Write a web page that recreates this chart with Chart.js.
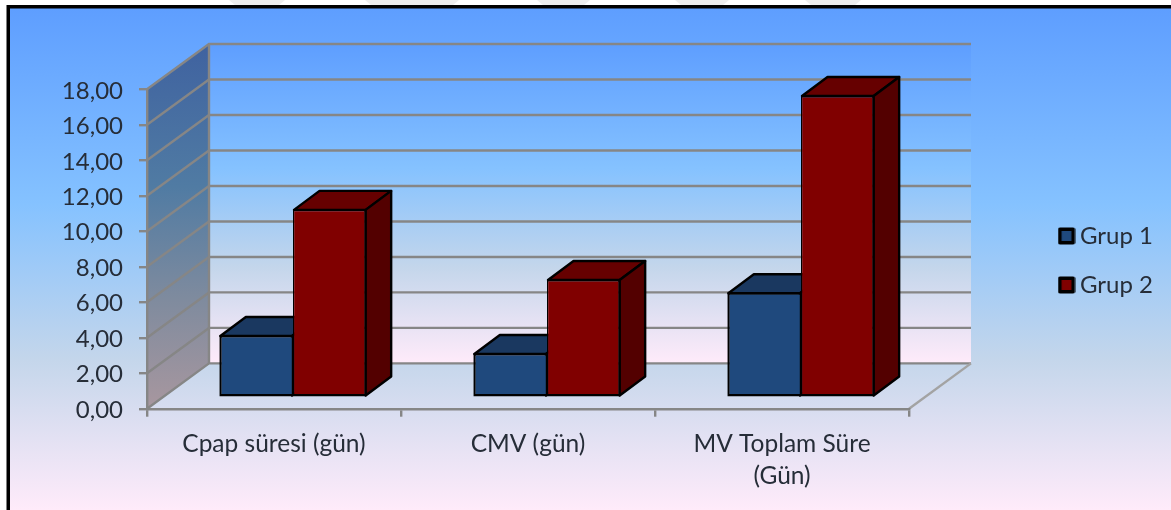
<!DOCTYPE html>
<html>
<head>
<meta charset="utf-8">
<script src="https://cdn.jsdelivr.net/npm/chart.js@4/dist/chart.umd.min.js"></script>
<style>
html, body { margin: 0; padding: 0; background: #fff; }
#wrap { position: absolute; left: 0; top: 0; width: 1171px; height: 510px; }
</style>
</head>
<body>
<div id="wrap"><canvas id="c" width="1171" height="510"></canvas></div>
<script>
const categories = [['Cpap süresi (gün)'], ['CMV (gün)'], ['MV Toplam Süre', '(Gün)']];
const grup1 = [3.53, 2.52, 5.94];
const grup2 = [10.64, 6.69, 17.06];
const seriesNames = ['Grup 1', 'Grup 2'];

const FONT = 'Lato, Carlito, Calibri, sans-serif';
const TEXT = '#262d38';
const GRID = '#868686';

// Oblique projection: wall depth, bar depth and the shift of the bar row off the front plane
const WALL = { dx: 62, dy: -45.3 };
const BAR_DEPTH = { dx: 25.5, dy: -19 };
const BAR_SHIFT = { dx: 19, dy: -11 };

const FACES = [
  { front: '#1f497d', top: '#1a3860', side: '#14304f' },
  { front: '#800000', top: '#660000', side: '#530000' }
];

// Pale marks along the white strip above the frame: [left, right] at the top edge
const STRIP_MARKS = [[229, 285], [365, 459], [537, 590], [675, 729], [805, 861]];

function daybreak(ctx, y0, y1) {
  const g = ctx.createLinearGradient(0, y0, 0, y1);
  g.addColorStop(0, '#5e9eff');
  g.addColorStop(0.39, '#85c2ff');
  g.addColorStop(0.7, '#c4d6eb');
  g.addColorStop(1, '#ffebfa');
  return g;
}

function poly(ctx, pts) {
  ctx.beginPath();
  pts.forEach((p, i) => i ? ctx.lineTo(p[0], p[1]) : ctx.moveTo(p[0], p[1]));
  ctx.closePath();
}

// Square legend swatch with a heavy rounded outline
function swatch(color) {
  const s = document.createElement('canvas');
  s.width = 18; s.height = 18;
  const c = s.getContext('2d');
  c.fillStyle = color;
  c.strokeStyle = '#000';
  c.lineWidth = 3.6;
  c.lineJoin = 'round';
  c.beginPath();
  c.rect(2.3, 2.3, 13.4, 13.4);
  c.fill();
  c.stroke();
  return s;
}

// Panel background, frame, walls and floor behind the bars
const box3d = {
  id: 'box3d',
  afterLayout(chart) {
    const lg = chart.legend;
    const h = lg.bottom - lg.top;
    lg.left = 1040; lg.right = 1171;
    lg.top = 199; lg.bottom = 199 + h;
  },
  beforeDraw(chart) {
    const { ctx, chartArea: a, scales: { y } } = chart;
    ctx.save();
    ctx.fillStyle = '#fff';
    ctx.fillRect(0, 0, chart.width, chart.height);
    ctx.fillStyle = '#eeeeee';
    STRIP_MARKS.forEach(m => {
      poly(ctx, [[m[0], 0], [m[1], 0], [m[1] - 6, 5], [m[0] + 6, 5]]);
      ctx.fill();
    });
    ctx.fillStyle = '#000';
    ctx.fillRect(6.5, 5, chart.width, chart.height);
    ctx.fillStyle = daybreak(ctx, 8.5, 510);
    ctx.fillRect(10, 8.5, chart.width, chart.height);

    const y0 = y.getPixelForValue(y.min), yT = y.getPixelForValue(y.max);
    const bx = a.left + WALL.dx, ex = a.right + WALL.dx;

    // back wall
    ctx.fillStyle = daybreak(ctx, yT + WALL.dy, y0 + WALL.dy);
    ctx.fillRect(bx, yT + WALL.dy, ex - bx, y0 - yT);

    // side wall
    const sg = ctx.createLinearGradient(0, yT + WALL.dy, 0, y0);
    sg.addColorStop(0, '#3f62a0');
    sg.addColorStop(0.39, '#507ba3');
    sg.addColorStop(0.7, '#7f8b9e');
    sg.addColorStop(1, '#a8979f');
    ctx.fillStyle = sg;
    poly(ctx, [[a.left, y0], [a.left, yT], [bx, yT + WALL.dy], [bx, y0 + WALL.dy]]);
    ctx.fill();

    // wall grid lines at each value tick
    ctx.lineWidth = 2.4;
    ctx.strokeStyle = GRID;
    y.ticks.forEach(t => {
      const p = y.getPixelForValue(t.value);
      ctx.beginPath();
      ctx.moveTo(a.left, p);
      ctx.lineTo(bx, p + WALL.dy);
      ctx.lineTo(ex, p + WALL.dy);
      ctx.stroke();
    });

    // wall corner and right floor edge
    ctx.beginPath();
    ctx.moveTo(bx, yT + WALL.dy);
    ctx.lineTo(bx, y0 + WALL.dy);
    ctx.stroke();
    ctx.strokeStyle = '#a3a3a3';
    ctx.beginPath();
    ctx.moveTo(ex, y0 + WALL.dy);
    ctx.lineTo(a.right, y0);
    ctx.stroke();
    ctx.restore();

    // value labels sit slightly under their tick marks
    y.getLabelItems().forEach(it => { it.options.translation[1] += 1.5; });
  },
  // Bars stand in the middle of the floor, so the whole row is shifted off the front plane
  beforeDatasetsDraw(chart) {
    const { ctx } = chart;
    ctx.save();
    ctx.translate(BAR_SHIFT.dx, BAR_SHIFT.dy);
    ctx.lineWidth = 2.4;
    ctx.lineJoin = 'round';
    ctx.strokeStyle = '#000';
    const metas = [chart.getDatasetMeta(0), chart.getDatasetMeta(1)];
    categories.forEach((_, i) => {
      metas.forEach((m, s) => {
        const el = m.data[i];
        const l = el.x - el.width / 2 + 1, r = el.x + el.width / 2 - 1, t = el.y + 1, b = el.base - 1;
        const dx = BAR_DEPTH.dx, dy = BAR_DEPTH.dy;
        ctx.fillStyle = FACES[s].top;
        poly(ctx, [[l, t], [l + dx, t + dy], [r + dx, t + dy], [r, t]]);
        ctx.fill(); ctx.stroke();
        ctx.fillStyle = FACES[s].side;
        poly(ctx, [[r, t], [r + dx, t + dy], [r + dx, b + dy], [r, b]]);
        ctx.fill(); ctx.stroke();
      });
    });
  },
  afterDatasetsDraw(chart) {
    chart.ctx.restore();
  }
};

new Chart(document.getElementById('c'), {
  type: 'bar',
  plugins: [box3d],
  data: {
    labels: categories,
    datasets: [
      {
        label: seriesNames[0], data: grup1,
        backgroundColor: FACES[0].front, borderColor: '#000',
        borderWidth: { top: 2.4, left: 2.4, bottom: 2.4, right: 1.2 },
        borderSkipped: false, clip: false
      },
      {
        label: seriesNames[1], data: grup2,
        backgroundColor: FACES[1].front, borderColor: '#000',
        borderWidth: { top: 2.4, left: 1.2, bottom: 2.4, right: 2.4 },
        borderSkipped: false, clip: false
      }
    ]
  },
  options: {
    responsive: false,
    animation: false,
    layout: { padding: { left: 0, top: 89.3, right: 262, bottom: 0 } },
    datasets: { bar: { categoryPercentage: 0.58, barPercentage: 1 } },
    scales: {
      x: {
        afterFit(s) { s.height = 101.3; },
        border: { display: true, color: GRID, width: 2.4 },
        grid: { drawOnChartArea: false, drawTicks: true, tickLength: 8, color: GRID, lineWidth: 2.4 },
        ticks: { color: TEXT, font: { family: FONT, size: 24.5, lineHeight: 1.33 }, padding: 11, maxRotation: 0 }
      },
      y: {
        min: 0, max: 18,
        afterFit(s) { s.width = 147; },
        border: { display: true, color: GRID, width: 2.4 },
        grid: { drawOnChartArea: false, drawTicks: true, tickLength: 8, color: GRID, lineWidth: 2.4 },
        ticks: {
          stepSize: 2, color: TEXT, padding: 16,
          font: { family: FONT, size: 24 },
          callback: v => v.toFixed(2).replace('.', ',')
        }
      }
    },
    plugins: {
      title: { display: false },
      tooltip: { enabled: false },
      legend: {
        position: 'chartArea',
        align: 'start',
        labels: {
          color: TEXT,
          font: { family: FONT, size: 24 },
          usePointStyle: true,
          pointStyleWidth: 3,
          boxHeight: 14,
          padding: 25,
          generateLabels(chart) {
            return chart.data.datasets.map((d, i) => ({
              text: d.label, pointStyle: swatch(d.backgroundColor),
              fontColor: TEXT, datasetIndex: i, hidden: false
            }));
          }
        }
      }
    }
  }
});
</script>
</body>
</html>
